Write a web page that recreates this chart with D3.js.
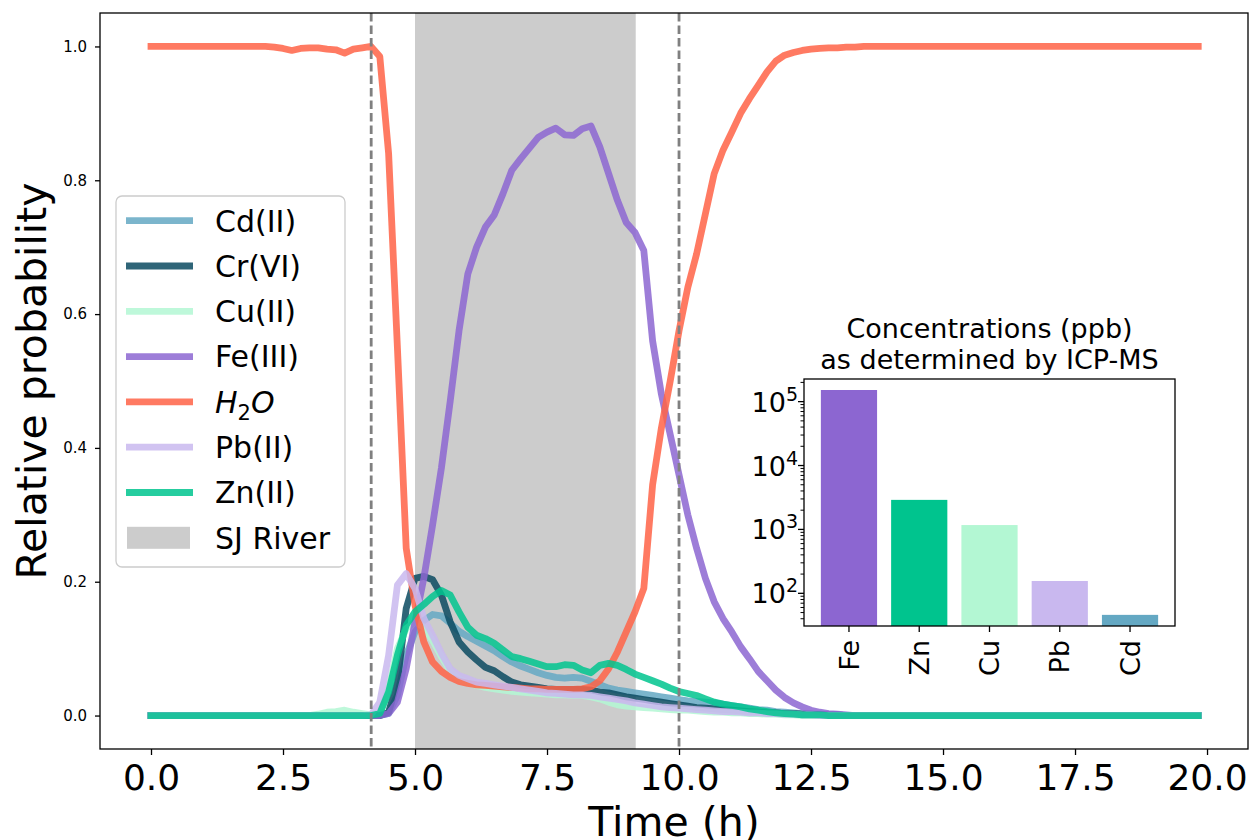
<!DOCTYPE html>
<html>
<head>
<meta charset="utf-8">
<script src="https://cdn.jsdelivr.net/npm/d3@7"></script>
<style>
  html, body { margin: 0; padding: 0; background: #fff; }
  svg { display: block; font-family: "DejaVu Sans", sans-serif; }
</style>
</head>
<body>
<svg id="chart" width="1252" height="840"></svg>
<script>
// Probability traces, one sample every 10 minutes (k / 6 hours)
const sampleHours = 1 / 6;

const cdII = [
  0,0,0,0,0,0,0,0,0,0,
  0,0,0,0,0,0,0,0,0,0,
  0,0,0,0,0,0,0,0.003,0.03,0.09,
  0.125,0.142,0.151,0.149,0.138,0.126,0.118,0.111,0.104,0.097,
  0.088,0.080,0.074,0.069,0.064,0.060,0.057,0.056,0.057,0.056,
  0.051,0.046,0.041,0.038,0.036,0.034,0.032,0.030,0.028,0.026,
  0.024,0.022,0.021,0.020,0.019,0.017,0.015,0.013,0.011,0.009,
  0.008,0.006,0.005,0.004,0.003,0.002,0.002,0.001,0.001,0,
  0,0,0,0,0,0,0,0,0,0,
  0,0,0,0,0,0,0,0,0,0,
  0,0,0,0,0,0,0,0,0,0,
  0,0,0,0,0,0,0,0,0,0
];

const crVI = [
  0,0,0,0,0,0,0,0,0,0,
  0,0,0,0,0,0,0,0,0,0,
  0,0,0,0,0,0,0,0.005,0.05,0.16,
  0.205,0.208,0.203,0.180,0.140,0.110,0.095,0.083,0.072,0.067,
  0.058,0.050,0.046,0.044,0.042,0.040,0.039,0.039,0.039,0.039,
  0.038,0.035,0.034,0.031,0.028,0.026,0.024,0.022,0.020,0.018,
  0.016,0.014,0.012,0.011,0.010,0.009,0.008,0.007,0.006,0.005,
  0.004,0.004,0.003,0.003,0.002,0.002,0.001,0.001,0.001,0,
  0,0,0,0,0,0,0,0,0,0,
  0,0,0,0,0,0,0,0,0,0,
  0,0,0,0,0,0,0,0,0,0,
  0,0,0,0,0,0,0,0,0,0
];

const cuII = [
  0,0,0,0,0,0,0,0,0,0,
  0,0,0,0,0,0,0,0,0,0.002,
  0.005,0.006,0.008,0.005,0.003,0.001,0.004,0.040,0.100,0.130,
  0.140,0.132,0.112,0.088,0.067,0.055,0.049,0.045,0.042,0.040,
  0.038,0.036,0.035,0.034,0.033,0.032,0.031,0.031,0.030,0.030,
  0.028,0.025,0.020,0.016,0.014,0.013,0.012,0.011,0.010,0.009,
  0.008,0.008,0.007,0.006,0.005,0.005,0.004,0.004,0.003,0.003,
  0.002,0.002,0.001,0.001,0,0,0,0,0,0,
  0,0,0,0,0,0,0,0,0,0,
  0,0,0,0,0,0,0,0,0,0,
  0,0,0,0,0,0,0,0,0,0,
  0,0,0,0,0,0,0,0,0,0
];

const feIII = [
  0,0,0,0,0,0,0,0,0,0,
  0,0,0,0,0,0,0,0,0,0,
  0,0,0,0,0,0,0,0.003,0.020,0.070,
  0.140,0.205,0.285,0.370,0.470,0.575,0.660,0.700,0.730,0.748,
  0.780,0.815,0.832,0.848,0.864,0.872,0.878,0.868,0.867,0.877,
  0.881,0.850,0.810,0.770,0.737,0.722,0.695,0.560,0.480,0.420,
  0.360,0.300,0.250,0.205,0.170,0.145,0.125,0.103,0.085,0.066,
  0.052,0.038,0.027,0.019,0.013,0.008,0.005,0.003,0.002,0.001,
  0,0,0,0,0,0,0,0,0,0,
  0,0,0,0,0,0,0,0,0,0,
  0,0,0,0,0,0,0,0,0,0,
  0,0,0,0,0,0,0,0,0,0
];

const water = [
  1,1,1,1,1,1,1,1,1,1,
  1,1,1,1,0.999,0.997,0.994,0.997,0.998,0.998,
  0.996,0.995,0.990,0.996,0.998,1.0,0.985,0.840,0.550,0.250,
  0.165,0.110,0.080,0.066,0.057,0.051,0.048,0.046,0.045,0.044,
  0.043,0.042,0.041,0.040,0.040,0.039,0.039,0.039,0.039,0.040,
  0.043,0.052,0.070,0.095,0.125,0.155,0.190,0.345,0.430,0.500,
  0.575,0.640,0.690,0.750,0.810,0.845,0.872,0.900,0.922,0.942,
  0.962,0.978,0.987,0.991,0.994,0.996,0.997,0.998,0.998,0.999,
  0.999,1,1,1,1,1,1,1,1,1,
  1,1,1,1,1,1,1,1,1,1,
  1,1,1,1,1,1,1,1,1,1,
  1,1,1,1,1,1,1,1,1,1
];

const pbII = [
  0,0,0,0,0,0,0,0,0,0,
  0,0,0,0,0,0,0,0,0,0,
  0,0,0,0,0,0.001,0.020,0.090,0.195,0.212,
  0.190,0.145,0.120,0.093,0.070,0.060,0.055,0.050,0.048,0.046,
  0.044,0.042,0.040,0.038,0.036,0.034,0.033,0.032,0.031,0.031,
  0.030,0.028,0.026,0.024,0.022,0.019,0.017,0.015,0.013,0.012,
  0.011,0.010,0.009,0.008,0.007,0.006,0.006,0.005,0.004,0.004,
  0.003,0.003,0.002,0.002,0.001,0.001,0,0,0,0,
  0,0,0,0,0,0,0,0,0,0,
  0,0,0,0,0,0,0,0,0,0,
  0,0,0,0,0,0,0,0,0,0,
  0,0,0,0,0,0,0,0,0,0
];

const znII = [
  0,0,0,0,0,0,0,0,0,0,
  0,0,0,0,0,0,0,0,0,0,
  0,0,0,0,0,0,0.003,0.035,0.090,0.135,
  0.155,0.166,0.178,0.187,0.180,0.155,0.132,0.120,0.115,0.108,
  0.098,0.088,0.085,0.081,0.077,0.073,0.073,0.076,0.075,0.068,
  0.064,0.075,0.078,0.075,0.069,0.062,0.057,0.052,0.047,0.041,
  0.036,0.033,0.030,0.025,0.020,0.017,0.015,0.013,0.010,0.008,
  0.006,0.004,0.003,0.002,0.001,0.001,0.001,0,0,0,
  0,0,0,0,0,0,0,0,0,0,
  0,0,0,0,0,0,0,0,0,0,
  0,0,0,0,0,0,0,0,0,0,
  0,0,0,0,0,0,0,0,0,0
];

const seriesKeys   = ["Cd(II)", "Cr(VI)", "Cu(II)", "Fe(III)", "H2O", "Pb(II)", "Zn(II)"];
const seriesValues = [cdII, crVI, cuII, feIII, water, pbII, znII];
const seriesColors = ["#64a8c3", "#0a4a60", "#b3f7d3", "#8c66d1", "#ff6347", "#c9b8ef", "#00c48e"];

const riverWindow = [5.0, 9.18];     // hours the SJ River sample was flowing
const markerTimes = [4.17, 10.0];    // dashed reference times

const xTickValues = [0, 2.5, 5, 7.5, 10, 12.5, 15, 17.5, 20];
const yTickValues = [0, 0.2, 0.4, 0.6, 0.8, 1.0];

// ICP-MS concentrations (ppb)
const icpElements = ["Fe", "Zn", "Cu", "Pb", "Cd"];
const icpPpb      = [152000, 2900, 1170, 156, 46];
const icpColors   = ["#8c66d1", "#00c48e", "#b3f7d3", "#c9b8ef", "#64a8c3"];
const icpDecades  = [2, 3, 4, 5];

// ---------------------------------------------------------------------------
const svg = d3.select("#chart");
const plot = { left: 100, right: 1248, top: 13, bottom: 749 };
const lineWidth = 6.8;
const lineAlpha = 0.85;

const x = d3.scaleLinear().domain([-0.966, 20.776]).range([plot.left, plot.right]);
const y = d3.scaleLinear().domain([-0.05, 1.05]).range([plot.bottom, plot.top]);

svg.append("defs").append("clipPath").attr("id", "plot-clip")
  .append("rect")
  .attr("x", plot.left).attr("y", plot.top)
  .attr("width", plot.right - plot.left).attr("height", plot.bottom - plot.top);

const body = svg.append("g").attr("clip-path", "url(#plot-clip)");

// River sample window
body.append("rect")
  .attr("x", x(riverWindow[0]))
  .attr("y", plot.top)
  .attr("width", x(riverWindow[1]) - x(riverWindow[0]))
  .attr("height", plot.bottom - plot.top)
  .attr("fill", "#cccccc");

// Probability traces
const line = d3.line()
  .x((d, i) => x(i * sampleHours))
  .y(d => y(d));

seriesValues.forEach((vals, s) => {
  body.append("path")
    .datum(vals)
    .attr("d", line)
    .attr("fill", "none")
    .attr("stroke", seriesColors[s])
    .attr("stroke-opacity", lineAlpha)
    .attr("stroke-width", lineWidth)
    .attr("stroke-linejoin", "round")
    .attr("stroke-linecap", "square");
});

// Dashed reference times
body.selectAll("line.marker")
  .data(markerTimes)
  .join("line")
  .attr("class", "marker")
  .attr("x1", d => x(d)).attr("x2", d => x(d))
  .attr("y1", plot.top).attr("y2", plot.bottom)
  .attr("stroke", "#808080")
  .attr("stroke-width", 2.8)
  .attr("stroke-dasharray", "8.5,4");

// Frame
svg.append("rect")
  .attr("x", plot.left).attr("y", plot.top)
  .attr("width", plot.right - plot.left).attr("height", plot.bottom - plot.top)
  .attr("fill", "none").attr("stroke", "#000").attr("stroke-width", 1.3);

// Axes
const xAxis = svg.append("g")
  .attr("transform", `translate(0,${plot.bottom})`)
  .call(d3.axisBottom(x).tickValues(xTickValues).tickFormat(d3.format(".1f"))
    .tickSizeOuter(0).tickSizeInner(6).tickPadding(9));
xAxis.select(".domain").remove();
xAxis.selectAll("line").attr("stroke", "#000").attr("stroke-width", 1.3);
xAxis.selectAll("text")
  .attr("font-family", "DejaVu Sans").attr("font-size", 36).attr("fill", "#000");

const yAxis = svg.append("g")
  .attr("transform", `translate(${plot.left},0)`)
  .call(d3.axisLeft(y).tickValues(yTickValues).tickFormat(d3.format(".1f"))
    .tickSizeOuter(0).tickSizeInner(5).tickPadding(8));
yAxis.select(".domain").remove();
yAxis.selectAll("line").attr("stroke", "#000").attr("stroke-width", 1.3);
yAxis.selectAll("text")
  .attr("font-family", "DejaVu Sans").attr("font-size", 15).attr("fill", "#000");

// Axis titles
svg.append("text")
  .attr("x", (plot.left + plot.right) / 2).attr("y", 836)
  .attr("text-anchor", "middle")
  .attr("font-size", 41).attr("fill", "#000")
  .text("Time (h)");

svg.append("text")
  .attr("transform", `translate(46,${(plot.top + plot.bottom) / 2}) rotate(-90)`)
  .attr("text-anchor", "middle")
  .attr("font-size", 41).attr("fill", "#000")
  .text("Relative probability");

// Legend
const legend = svg.append("g").attr("transform", "translate(116,196)");
legend.append("rect")
  .attr("x", 0).attr("y", 0).attr("width", 229).attr("height", 371)
  .attr("rx", 6).attr("ry", 6)
  .attr("fill", "#fff").attr("fill-opacity", 0.8)
  .attr("stroke", "#cccccc").attr("stroke-width", 1.3);

const rowGap = 45.3, firstRow = 24.7;
seriesKeys.forEach((name, i) => {
  const ry = firstRow + i * rowGap;
  legend.append("line")
    .attr("x1", 10).attr("x2", 77).attr("y1", ry).attr("y2", ry)
    .attr("stroke", seriesColors[i]).attr("stroke-opacity", lineAlpha)
    .attr("stroke-width", lineWidth);
  const t = legend.append("text")
    .attr("x", 99).attr("y", ry).attr("dy", "0.36em")
    .attr("font-size", 30).attr("fill", "#000");
  if (name === "H2O") {
    t.append("tspan").attr("font-style", "italic").text("H");
    t.append("tspan").attr("font-size", 21).attr("dy", 7).text("2");
    t.append("tspan").attr("font-style", "italic").attr("dy", -7).text("O");
  } else {
    t.text(name);
  }
});
{
  const ry = firstRow + seriesKeys.length * rowGap;
  legend.append("rect")
    .attr("x", 11).attr("y", ry - 11).attr("width", 63).attr("height", 22)
    .attr("fill", "#cccccc");
  legend.append("text")
    .attr("x", 99).attr("y", ry).attr("dy", "0.36em")
    .attr("font-size", 30).attr("fill", "#000")
    .text("SJ River");
}

// ---------------------------------------------------------------------------
// Inset: ICP-MS concentrations on a log axis
const inset = { left: 804, right: 1175, top: 379, bottom: 626 };
const ix = d3.scaleLinear().domain([-0.64, 4.64]).range([inset.left, inset.right]);
const iy = d3.scaleLog().domain([30.8, 226000]).range([inset.bottom, inset.top]);
const barWidth = 0.8;

svg.append("rect")
  .attr("x", inset.left).attr("y", inset.top)
  .attr("width", inset.right - inset.left).attr("height", inset.bottom - inset.top)
  .attr("fill", "#fff");

svg.append("g").selectAll("rect")
  .data(icpPpb)
  .join("rect")
  .attr("x", (d, i) => ix(i - barWidth / 2))
  .attr("width", (d, i) => ix(i + barWidth / 2) - ix(i - barWidth / 2))
  .attr("y", d => iy(d))
  .attr("height", d => inset.bottom - iy(d))
  .attr("fill", (d, i) => icpColors[i]);

svg.append("rect")
  .attr("x", inset.left).attr("y", inset.top)
  .attr("width", inset.right - inset.left).attr("height", inset.bottom - inset.top)
  .attr("fill", "none").attr("stroke", "#000").attr("stroke-width", 1.3);

// Log ticks: majors at each decade, minors at 2..9 multiples
const [lo, hi] = iy.domain();
const minorTicks = [];
for (let e = 1; e <= 5; e++) {
  for (let m = 2; m <= 9; m++) {
    const v = m * Math.pow(10, e);
    if (v >= lo && v <= hi) minorTicks.push(v);
  }
}
const iyAxis = svg.append("g");
iyAxis.selectAll("line.minor")
  .data(minorTicks).join("line")
  .attr("class", "minor")
  .attr("x1", inset.left - 3.5).attr("x2", inset.left)
  .attr("y1", d => iy(d)).attr("y2", d => iy(d))
  .attr("stroke", "#000").attr("stroke-width", 1);
iyAxis.selectAll("line.major")
  .data(icpDecades).join("line")
  .attr("class", "major")
  .attr("x1", inset.left - 6).attr("x2", inset.left)
  .attr("y1", d => iy(Math.pow(10, d))).attr("y2", d => iy(Math.pow(10, d)))
  .attr("stroke", "#000").attr("stroke-width", 1.3);
iyAxis.selectAll("text")
  .data(icpDecades).join("text")
  .attr("x", inset.left - 6)
  .attr("y", d => iy(Math.pow(10, d)) + 10)
  .attr("text-anchor", "end")
  .attr("font-size", 27).attr("fill", "#000")
  .each(function (d) {
    const t = d3.select(this);
    t.append("tspan").text("10");
    t.append("tspan").attr("font-size", 19).attr("dy", -11).text(d);
  });

// Category ticks and rotated labels
const ixAxis = svg.append("g");
ixAxis.selectAll("line")
  .data(icpElements).join("line")
  .attr("x1", (d, i) => ix(i)).attr("x2", (d, i) => ix(i))
  .attr("y1", inset.bottom).attr("y2", inset.bottom + 6)
  .attr("stroke", "#000").attr("stroke-width", 1.3);
ixAxis.selectAll("text")
  .data(icpElements).join("text")
  .attr("transform", (d, i) => `translate(${ix(i)},${inset.bottom + 14}) rotate(-90)`)
  .attr("text-anchor", "end")
  .attr("dy", "0.36em")
  .attr("font-size", 27).attr("fill", "#000")
  .text(d => d);

// Inset title
const insetTitle = svg.append("text")
  .attr("text-anchor", "middle")
  .attr("font-size", 27).attr("fill", "#000");
insetTitle.append("tspan")
  .attr("x", (inset.left + inset.right) / 2).attr("y", 338)
  .text("Concentrations (ppb)");
insetTitle.append("tspan")
  .attr("x", (inset.left + inset.right) / 2).attr("y", 369)
  .text("as determined by ICP-MS");
</script>
</body>
</html>
